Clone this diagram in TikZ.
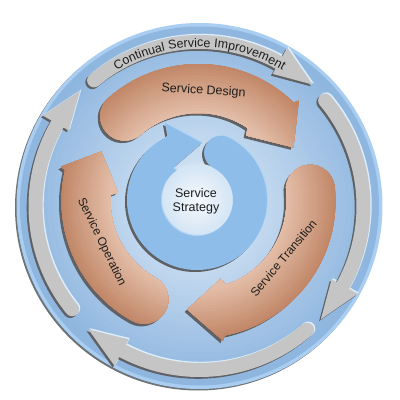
\documentclass[tikz,border=0pt]{standalone}
\usepackage{fontspec}
\setmainfont{Liberation Sans}
\usetikzlibrary{decorations.text}

\definecolor{rim}{HTML}{A9CEF1}
\definecolor{rimshadow}{HTML}{6E7378}
\definecolor{discA}{HTML}{E2EDF8}
\definecolor{discD}{HTML}{8DB5DF}
\definecolor{grayarrow}{HTML}{C5C5C5}
\definecolor{grayhi}{HTML}{DCEEFB}
\definecolor{shadowgray}{HTML}{5F6164}
\definecolor{salmonL}{HTML}{E6C3AE}
\definecolor{salmonD}{HTML}{BD7F5E}
\definecolor{ringblue}{HTML}{8EBDE9}
\definecolor{ringhi}{HTML}{B3D5F4}
\definecolor{coreA}{HTML}{F5F9FD}
\definecolor{coreB}{HTML}{D3E4F4}
\definecolor{lbltext}{HTML}{1E1E1E}

\newcommand{\lblfont}{\fontsize{12.5}{14}\selectfont}
\newcommand{\sidefont}{\fontsize{12}{14}\selectfont}

% outer arrow: start, head base, tip, start+180
\newcommand{\graypath}[4]{(#1:171) arc[start angle=#1, end angle=#2, radius=171]
  -- (#2:181) -- (#3:166) -- (#2:151) -- (#2:157)
  arc[start angle=#2, end angle=#1, radius=157]
  arc[start angle=#4, end angle=#1, radius=7] -- cycle}

% phase arrow: cap, inner barb, outer barb, tip, cap+180
\newcommand{\phasepath}[5]{(#1:137) arc[start angle=#1, end angle=#3+1, radius=137]
  -- (#3:142) -- (#4:109) -- (#2:81) -- (#2+2:88)
  arc[start angle=#2+2, end angle=#1, radius=88]
  arc[start angle=#5, end angle=#1, radius=24.5] -- cycle}

\newcommand{\ringpath}{(63:70) arc[start angle=63, end angle=-245, radius=70]
  -- (-32,77) -- (5,57) -- (-24,32) -- (-235:36)
  arc[start angle=-235, end angle=63, radius=36]
  arc[start angle=243, end angle=63, radius=17] -- cycle}

\begin{document}
\begin{tikzpicture}[x=1pt,y=1pt,
  lbl/.style={font=\lblfont,text=lbltext,inner sep=0pt},
  side/.style={font=\sidefont,text=lbltext,inner sep=0pt}]
  \useasboundingbox (-199.5,-194) rectangle (200.5,206);

  % disc
  \fill[rimshadow] (-1.5,-1.5) circle (183);
  \fill[rim] (0,0) circle (183);
  \foreach \rr in {179.5,176.5,...,2} {
    \pgfmathtruncatemacro{\pp}{\rr/1.8}
    \fill[discD!\pp!discA] (0,0) circle (\rr);
  }

  % outer improvement arrows
  \foreach \ga in {130,40,-49,-141} {
    \pgfmathsetmacro{\gb}{\ga-69}
    \pgfmathsetmacro{\gt}{\gb-14}
    \pgfmathsetmacro{\gc}{\ga+180}
    \fill[grayhi,shift={(1.2,1.2)}] \graypath{\ga}{\gb}{\gt}{\gc};
    \fill[shadowgray,shift={(-1.8,-1.8)}] \graypath{\ga}{\gb}{\gt}{\gc};
    \fill[grayarrow] \graypath{\ga}{\gb}{\gt}{\gc};
  }

  % design, transition, operation
  \begin{scope}[shift={(-1,5)}]
    \foreach \pa/\pi/\po/\pt in {131/54/45/29.5, 6/-74/-80/-96, 241/174/166/153} {
      \pgfmathsetmacro{\pc}{\pa+180}
      \fill[shadowgray,shift={(-2.5,-2.5)}] \phasepath{\pa}{\pi}{\po}{\pt}{\pc};
      \begin{scope}
        \clip \phasepath{\pa}{\pi}{\po}{\pt}{\pc};
        \fill[salmonL] (0,0) circle (150);
        \foreach \rr in {150,147,...,90} {
          \pgfmathtruncatemacro{\pp}{max(0,min(100,(\rr-85)*100/60))}
          \fill[salmonD!\pp!salmonL] (0,0) circle (\rr);
        }
      \end{scope}
    }
  \end{scope}

  % strategy ring
  \begin{scope}[shift={(-2.5,6)}]
    \fill[shadowgray,shift={(-2,-2)}] \ringpath;
    \shade[inner color=coreA,outer color=coreB] (0,0) circle (36.5);
    \fill[ringhi,shift={(1,1)}] \ringpath;
    \fill[ringblue] \ringpath;
    \node[lbl,align=center] (strategy) at (-1,-1) {Service\\Strategy};
  \end{scope}

  % labels
  \path[decorate,decoration={text along path,text align=center,
    text={|\lblfont\color{lbltext}|Continual Service Improvement}}]
    (135:159) arc[start angle=135, end angle=45, radius=159];
  \node[lbl,rotate=-3.5] (design) at (4,115) {Service Design};
  \node[side,rotate=50] (transition) at (84,-52) {Service Transition};
  \node[side,rotate=-64] (operation) at (-98,-36) {Service Operation};
\end{tikzpicture}
\end{document}
